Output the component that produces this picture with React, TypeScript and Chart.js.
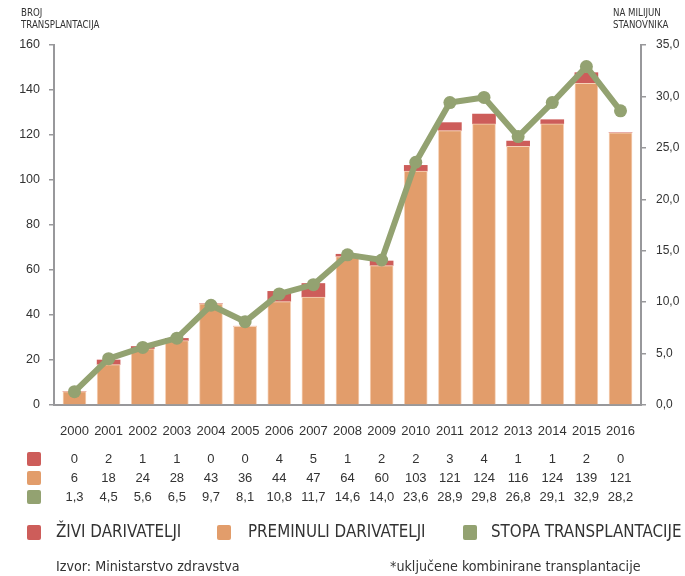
import React, { useEffect, useRef } from "react";
import { Chart, registerables } from "chart.js";

Chart.register(...registerables);

// ---- data ----
const years = [2000, 2001, 2002, 2003, 2004, 2005, 2006, 2007, 2008, 2009, 2010, 2011, 2012, 2013, 2014, 2015, 2016];

// values printed in the table under the chart
const tableZivi = [0, 2, 1, 1, 0, 0, 4, 5, 1, 2, 2, 3, 4, 1, 1, 2, 0];
const tablePreminuli = [6, 18, 24, 28, 43, 36, 44, 47, 64, 60, 103, 121, 124, 116, 124, 139, 121];
const tableStopa = [1.3, 4.5, 5.6, 6.5, 9.7, 8.1, 10.8, 11.7, 14.6, 14.0, 23.6, 28.9, 29.8, 26.8, 29.1, 32.9, 28.2];

const barPreminuli = [6, 18, 25, 28.6, 45, 35, 46, 48, 66, 62, 104, 122, 125, 115, 125, 143, 121];
const barZivi = [0, 2, 1, 1, 0, 0, 4.5, 6, 1, 2, 2.5, 3.5, 4.3, 2.3, 1.8, 4.7, 0];
const lineStopa = [1.3, 4.5, 5.6, 6.5, 9.7, 8.1, 10.8, 11.7, 14.6, 14.1, 23.6, 29.4, 29.9, 26.1, 29.4, 32.9, 28.6];

const leftAxisTitle = ["BROJ", "TRANSPLANTACIJA"];
const rightAxisTitle = ["NA MILIJUN", "STANOVNIKA"];
const legendLabels = ["ŽIVI DARIVATELJI", "PREMINULI DARIVATELJI", "STOPA TRANSPLANTACIJE"];
const sourceText = "Izvor: Ministarstvo zdravstva";
const noteText = "*uključene kombinirane transplantacije";

// ---- styles ----
const RED = "#cd5d5a";
const ORANGE = "#e29d6b";
const GREEN = "#93a271";
const AXIS = "#98989b";
const TEXT = "#333333";
const NARROW = "'Liberation Sans Narrow', 'DejaVu Sans Condensed', 'Liberation Sans', sans-serif";
const REG = "'Liberation Sans', Arial, sans-serif";

const fmt = (v: number) => v.toFixed(1).replace(".", ",");

const overlayPlugin = {
  id: "overlay",
  afterDraw(chart: any) {
    const ctx: CanvasRenderingContext2D = chart.ctx;
    const xs = chart.scales.x;
    ctx.save();
    ctx.fillStyle = TEXT;
    ctx.textBaseline = "middle";

    // axis titles
    ctx.font = `9.6px ${NARROW}`;
    ctx.textAlign = "left";
    ctx.fillText(leftAxisTitle[0], 21, 13);
    ctx.fillText(leftAxisTitle[1], 21, 25.5);
    ctx.fillText(rightAxisTitle[0], 613, 13);
    ctx.fillText(rightAxisTitle[1], 613, 25.5);

    // table
    const rows = [
      { color: RED, y: 459, vals: tableZivi.map(String) },
      { color: ORANGE, y: 478, vals: tablePreminuli.map(String) },
      { color: GREEN, y: 497, vals: tableStopa.map(fmt) },
    ];
    ctx.font = `13px ${REG}`;
    ctx.textAlign = "center";
    rows.forEach((r) => {
      ctx.fillStyle = r.color;
      ctx.beginPath();
      (ctx as any).roundRect(27, r.y - 7, 14, 14, 2);
      ctx.fill();
      ctx.fillStyle = TEXT;
      r.vals.forEach((v, i) => {
        ctx.fillText(v, xs.getPixelForValue(years[i]), r.y);
      });
    });

    // legend
    const legend = [
      { color: RED, sx: 27, tx: 56 },
      { color: ORANGE, sx: 217, tx: 248 },
      { color: GREEN, sx: 463, tx: 491 },
    ];
    ctx.font = `16.8px ${NARROW}`;
    ctx.textAlign = "left";
    legend.forEach((l, i) => {
      ctx.fillStyle = l.color;
      ctx.beginPath();
      (ctx as any).roundRect(l.sx, 525, 14, 15, 2);
      ctx.fill();
      ctx.fillStyle = TEXT;
      ctx.fillText(legendLabels[i], l.tx, 533);
    });

    // footer
    ctx.font = `14.2px ${NARROW}`;
    ctx.fillText(sourceText, 56, 567);
    ctx.fillText(noteText, 390, 567);
    ctx.restore();
  },
};

export default function App() {
  const ref = useRef<HTMLCanvasElement>(null);
  useEffect(() => {
    if (!ref.current) return;
    const chart = new Chart(ref.current, {
      type: "bar",
      data: {
        labels: years,
        datasets: [
          {
            type: "line",
            label: legendLabels[2],
            data: lineStopa,
            yAxisID: "y1",
            borderColor: GREEN,
            backgroundColor: GREEN,
            borderWidth: 6,
            pointRadius: 6.5,
            pointBorderWidth: 0,
            pointBackgroundColor: GREEN,
            tension: 0,
            order: 0,
          } as any,
          {
            label: legendLabels[1],
            data: barPreminuli,
            backgroundColor: ORANGE,
            borderColor: "#f6d2b8",
            borderWidth: { left: 1, right: 1, top: 1, bottom: 0 },
            borderSkipped: false,
            barThickness: 23,
            yAxisID: "y",
            order: 1,
          },
          {
            label: legendLabels[0],
            data: barZivi,
            backgroundColor: RED,
            borderWidth: 0,
            barThickness: 23,
            yAxisID: "y",
            order: 1,
          },
        ],
      },
      options: {
        responsive: false,
        maintainAspectRatio: false,
        animation: false,
        devicePixelRatio: 1,
        layout: { padding: { top: 45, left: 0, right: 0, bottom: 0 } },
        plugins: { legend: { display: false }, tooltip: { enabled: false } },
        scales: {
          x: {
            type: "linear",
            min: 1999.4,
            max: 2016.6,
            offset: false,
            stacked: true,
            grid: { display: false },
            border: { display: true, color: AXIS, width: 2 },
            ticks: {
              color: TEXT,
              font: { size: 13, family: REG },
              padding: 11,
              autoSkip: false,
              maxRotation: 0,
              callback: (v: any) => String(v),
            },
            afterBuildTicks: (axis: any) => {
              axis.ticks = years.map((v) => ({ value: v }));
            },
            afterFit: (s: any) => {
              s.height = 171;
            },
          },
          y: {
            position: "left",
            min: 0,
            max: 160,
            stacked: true,
            grid: { drawOnChartArea: false, drawTicks: true, tickLength: 5, color: AXIS, lineWidth: 1.5 },
            border: { display: true, color: AXIS, width: 2 },
            ticks: { stepSize: 20, color: TEXT, font: { size: 12.5, family: REG }, padding: 9 },
            afterFit: (s: any) => {
              s.width = 54;
            },
          },
          y1: {
            position: "right",
            min: 0,
            max: 35,
            grid: { drawOnChartArea: false, drawTicks: true, tickLength: 5, color: AXIS, lineWidth: 1.5 },
            border: { display: true, color: AXIS, width: 2 },
            ticks: {
              stepSize: 5,
              color: TEXT,
              font: { size: 12, family: REG },
              padding: 10,
              callback: (v: any) => fmt(Number(v)),
            },
            afterFit: (s: any) => {
              s.width = 44;
            },
          },
        },
      } as any,
      plugins: [overlayPlugin],
    });
    return () => chart.destroy();
  }, []);
  return (
    <div style={{ position: "absolute", left: 0, top: 0, width: 685, height: 576, background: "#fff" }}>
      <canvas ref={ref} width={685} height={576} style={{ display: "block" }} />
    </div>
  );
}
